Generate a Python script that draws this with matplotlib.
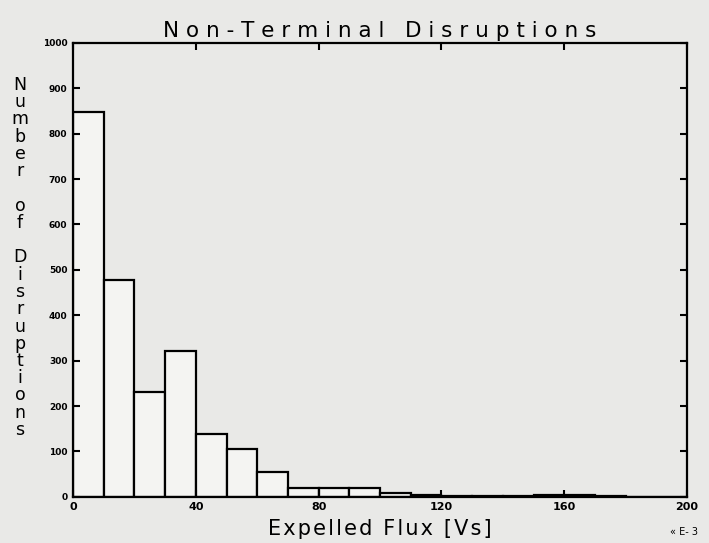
#! /usr/bin/env python3

import numpy as np
import matplotlib.pyplot as plt

# histogram of expelled flux, bins of 10 Vs
bin_edges = np.arange(0, 210, 10)
counts = [848, 478, 231, 322, 139, 106, 55, 20, 19, 19,
          9, 3, 1, 1, 1, 4, 4, 1, 0, 0]

xticks = [0, 40, 80, 120, 160, 200]
yticks = [0, 100, 200, 300, 400, 500, 600, 700, 800, 900, 1000]
title = "Non-Terminal Disruptions"
xlabel = "Expelled Flux [Vs]"
ylabel = "Number of Disruptions"


def spaced(s, sep):
    return sep.join(s)


bg = "#e9e9e7"
fig = plt.figure(figsize=(7.09, 5.43), dpi=100, facecolor=bg)
ax = fig.add_axes([0.103, 0.085, 0.866, 0.836], facecolor=bg)

ax.bar(bin_edges[:-1], counts, width=10, align="edge",
       facecolor="#f4f4f2", edgecolor="black", linewidth=1.6)

ax.set_xlim(0, 200)
ax.set_ylim(0, 1000)
ax.set_xticks(xticks)
ax.set_yticks(yticks)
ax.set_xticklabels([str(t) for t in xticks], fontsize=8, fontweight="bold")
ax.set_yticklabels([str(t) for t in yticks], fontsize=6.5, fontweight="bold")
ax.tick_params(direction="in", length=5, width=1.5, top=True, right=True,
               pad=4)
for s in ax.spines.values():
    s.set_linewidth(1.6)

ax.set_title(spaced(title, " "), fontsize=15.5, pad=4)
ax.set_xlabel(spaced(xlabel, "\u200a"), fontsize=15, labelpad=5)

# stacked vertical y label, one upright letter per row
y0 = 1 - 85 / 543
step = 17.25 / 543
for i, ch in enumerate(ylabel):
    if ch != " ":
        fig.text(20 / 709, y0 - i * step, ch, fontsize=12.5,
                 ha="center", va="center")

fig.text(0.985, 0.02, "« E- 3", fontsize=7, ha="right", va="center")

fig.savefig("out.png", dpi=100, facecolor=bg)
